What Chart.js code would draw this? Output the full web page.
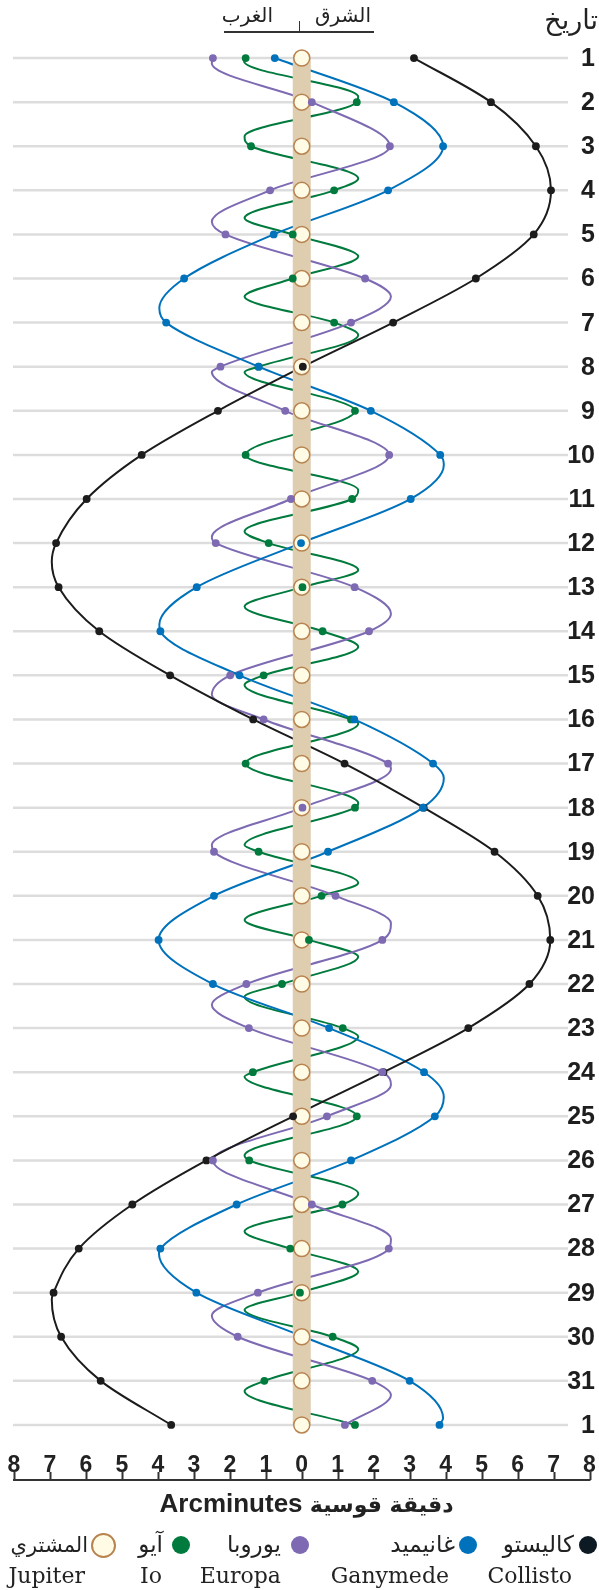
<!DOCTYPE html>
<html>
<head>
<meta charset="utf-8">
<script src="https://cdn.jsdelivr.net/npm/chart.js@4.4.1/dist/chart.umd.min.js"></script>
<style>
  html, body { margin: 0; padding: 0; background: #ffffff; }
  body { width: 599px; height: 1590px; position: relative; overflow: hidden; }
  #c { position: absolute; left: 0; top: 0; }
  .t { position: absolute; white-space: nowrap; color: #222; }
  .ar { font-family: "DejaVu Sans", sans-serif; direction: rtl; }
  .en { font-family: "DejaVu Serif", serif; font-size: 22px; line-height: 26px; }
  .dot { position: absolute; border-radius: 50%; }
</style>
</head>
<body>
<canvas id="c" width="599" height="1590"></canvas>

<!-- header -->
<div class="t ar" style="right:1px; top:2px; font-size:27px; line-height:36px;">تاريخ</div>
<div class="t ar" style="right:326px; top:2px; font-size:20px; line-height:26px;">الغرب</div>
<div class="t ar" style="right:228px; top:2px; font-size:20px; line-height:26px;">الشرق</div>
<div style="position:absolute; left:224px; top:31px; width:150px; height:1.5px; background:#333;"></div>
<div style="position:absolute; left:298.5px; top:21px; width:1.5px; height:11px; background:#333;"></div>

<!-- axis title -->
<div class="t" style="left:7px; width:599px; top:1487px; text-align:center; font-family:'Liberation Sans', Arial, sans-serif; font-weight:bold; font-size:26px; line-height:32px;">Arcminutes <span style="font-family:'DejaVu Sans'; font-size:22px;">دقيقة قوسية</span></div>

<!-- legend row 1 -->
<div class="dot" style="left:579px; top:1536px; width:18px; height:18px; background:#0d1a23;"></div>
<div class="t ar" style="right:25px; top:1530px; font-size:23px; line-height:28px;">كاليستو</div>
<div class="dot" style="left:459px; top:1536px; width:18px; height:18px; background:#0072bc;"></div>
<div class="t ar" style="right:144px; top:1530px; font-size:23px; line-height:28px;">غانيميد</div>
<div class="dot" style="left:291px; top:1536px; width:18px; height:18px; background:#7d6ab2;"></div>
<div class="t ar" style="right:318px; top:1530px; font-size:23px; line-height:28px;">يوروبا</div>
<div class="dot" style="left:172px; top:1536px; width:18px; height:18px; background:#007a3d;"></div>
<div class="t ar" style="right:436px; top:1530px; font-size:23px; line-height:28px;">آيو</div>
<div class="dot" style="left:91px; top:1533px; width:21px; height:21px; background:#fffbe4; border:2px solid #b8834f;"></div>
<div class="t ar" style="right:511px; top:1531px; font-size:21px; line-height:28px;">المشتري</div>

<!-- legend row 2 -->
<div class="t en" style="right:27px; top:1563px;">Collisto</div>
<div class="t en" style="right:150px; top:1563px;">Ganymede</div>
<div class="t en" style="right:318px; top:1563px;">Europa</div>
<div class="t en" style="right:437px; top:1563px;">Io</div>
<div class="t en" style="right:514px; top:1563px;">Jupiter</div>

<script>
// ---- DATA (arcminutes from Jupiter; east = positive/right) ----
const dayLabels = ['1','2','3','4','5','6','7','8','9','10','11','12','13','14','15','16',
                   '17','18','19','20','21','22','23','24','25','26','27','28','29','30','31','1'];
const xTickValues = [-8,-7,-6,-5,-4,-3,-2,-1,0,1,2,3,4,5,6,7,8];

const jupiter = [0,0,0,0,0,0,0,0,0,0,0,0,0,0,0,0,0,0,0,0,0,0,0,0,0,0,0,0,0,0,0,0];

const callisto = [3.12, 5.26, 6.51, 6.93, 6.45, 4.84, 2.54, 0.03, -2.33, -4.45, -5.98, -6.83,
                  -6.76, -5.63, -3.66, -1.35, 1.19, 3.39, 5.36, 6.56, 6.91, 6.33, 4.63, 2.27,
                  -0.24, -2.65, -4.71, -6.2, -6.9, -6.69, -5.59, -3.63];
const callistoTurns = [[12.42, -6.95], [29.15, -6.95]];

const ganymede = [-0.75, 2.56, 3.93, 2.4, -0.78, -3.27, -3.77, -1.2, 1.92, 3.85, 3.03, -0.02,
                  -2.92, -3.93, -1.73, 1.46, 3.65, 3.37, 0.73, -2.44, -3.98, -2.47, 0.76, 3.4,
                  3.7, 1.37, -1.81, -3.93, -2.93, 0.05, 3.0, 3.83];
const ganymedeTurns = [[6.67, -3.96], [10.23, 3.95], [13.85, -3.96], [17.33, 3.95],
                       [24.56, 3.95], [28.12, -3.97], [31.85, 3.93]];

const europa = [-2.47, 0.28, 2.45, -0.88, -2.12, 1.76, 1.37, -2.26, -0.46, 2.43, -0.3, -2.39,
                1.47, 1.87, -1.99, -1.06, 2.4, 0.02, -2.44, 0.94, 2.24, -1.54, -1.47, 2.24,
                0.7, -2.47, 0.28, 2.42, -1.22, -1.78, 1.96, 1.2];
const europaTurns = [[1.12, -2.5], [4.71, -2.5], [6.41, 2.48], [8.12, -2.5], [11.86, -2.5],
                     [13.6, 2.48], [15.44, -2.5], [17.12, 2.48], [18.85, -2.5], [20.62, 2.48],
                     [22.47, -2.5], [24.29, 2.48], [27.78, 2.48], [29.52, -2.5], [31.32, 2.48]];

const io = [-1.56, 1.53, -1.41, 0.9, -0.25, -0.25, 0.9, -1.2, 1.48, -1.56, 1.4, -0.92,
            0.02, 0.58, -1.06, 1.37, -1.56, 1.48, -1.2, 0.55, 0.2, -0.55, 1.14, -1.36,
            1.53, -1.46, 1.13, -0.32, -0.05, 0.86, -1.04, 1.48];
const ioTurns = [[1.08, -1.6], [1.88, 1.57], [2.78, -1.59], [3.73, 1.57], [4.63, -1.59],
                 [5.5, 1.57], [6.41, -1.59], [7.28, 1.57], [8.12, -1.59], [10.8, 1.57],
                 [11.74, -1.59], [12.61, 1.57], [13.44, -1.59], [14.35, 1.57], [15.22, -1.59],
                 [16.09, 1.57], [17.9, 1.57], [18.85, -1.59], [19.71, 1.57], [20.55, -1.59],
                 [21.38, 1.57], [22.29, -1.59], [23.19, 1.57], [24.1, -1.59], [25.89, -1.59],
                 [26.75, 1.57], [27.61, -1.59], [28.52, 1.57], [29.39, -1.59], [30.28, 1.57],
                 [31.23, -1.59]];

// ---- helpers ----
const dots = arr => arr.map((v, i) => ({x: v, y: i + 1}));
const path = (arr, turns) => dots(arr).concat(turns.map(t => ({x: t[1], y: t[0]})))
                                      .sort((a, b) => a.y - b.y);

const COL = {callisto: '#1c1c1c', ganymede: '#0072bc', europa: '#7d6ab2', io: '#007a3d'};

const lineDs = (data, color, order) => ({
  data, borderColor: color, borderWidth: 2, pointRadius: 0, pointHoverRadius: 0,
  cubicInterpolationMode: 'monotone', fill: false, order
});
const dotDs = (data, color, order, radius) => ({
  data, showLine: false, pointRadius: radius || 3.9, pointHoverRadius: 0,
  pointBackgroundColor: color, pointBorderWidth: 0, order
});

const gridPlugin = {
  id: 'dayGrid',
  beforeDatasetsDraw(chart) {
    const {ctx, scales: {y}} = chart;
    ctx.save();
    ctx.strokeStyle = '#dddddd';
    ctx.lineWidth = 2.5;
    dayLabels.forEach((l, i) => {
      const py = y.getPixelForValue(i + 1);
      ctx.beginPath(); ctx.moveTo(13, py); ctx.lineTo(568, py); ctx.stroke();
    });
    ctx.restore();
  },
  afterDraw(chart) {
    const {ctx, scales: {x, y}} = chart;
    ctx.save();
    // day labels
    ctx.fillStyle = '#1e1e1e';
    ctx.font = 'bold 25px "Liberation Sans", Arial, sans-serif';
    ctx.textAlign = 'right';
    ctx.textBaseline = 'middle';
    dayLabels.forEach((l, i) => {
      ctx.fillText(l, 595, y.getPixelForValue(i + 1) + 1);
    });
    // x axis ruler
    ctx.strokeStyle = '#333';
    ctx.lineWidth = 2;
    const x0 = x.getPixelForValue(xTickValues[0]);
    const x1 = x.getPixelForValue(xTickValues[xTickValues.length - 1]);
    ctx.beginPath(); ctx.moveTo(x0 - 1, 1480); ctx.lineTo(x1 + 1, 1480); ctx.stroke();
    xTickValues.forEach(v => {
      const px = Math.round(x.getPixelForValue(v)) + 0.5;
      ctx.beginPath(); ctx.moveTo(px, 1472); ctx.lineTo(px, 1480); ctx.stroke();
    });
    ctx.restore();
  }
};

new Chart(document.getElementById('c'), {
  type: 'line',
  data: {
    datasets: [
      lineDs(path(io, ioTurns), COL.io, 103),
      lineDs(path(europa, europaTurns), COL.europa, 102),
      lineDs(path(ganymede, ganymedeTurns), COL.ganymede, 101),
      lineDs(path(callisto, callistoTurns), COL.callisto, 100),
      { data: dots(jupiter), borderColor: '#dfcdb0', borderWidth: 18, borderCapStyle: 'butt',
        pointRadius: 0, tension: 0, order: 50 },
      { data: dots(jupiter), showLine: false, pointRadius: 8, pointHoverRadius: 0,
        pointBackgroundColor: '#fffbe4', pointBorderColor: '#b8834f', pointBorderWidth: 1.5, order: 40 },
      dotDs(dots(callisto), COL.callisto, 30),
      dotDs(dots(europa), COL.europa, 29),
      dotDs(dots(io), COL.io, 28),
      dotDs(dots(ganymede), COL.ganymede, 27, c => (c.dataIndex === 29 ? 0 : 3.9))
    ]
  },
  options: {
    indexAxis: 'y',
    responsive: false,
    animation: false,
    events: [],
    layout: { padding: { left: 14, right: 8, top: 36, bottom: 110 } },
    plugins: { legend: { display: false }, tooltip: { enabled: false } },
    scales: {
      x: {
        type: 'linear', min: -8, max: 8, position: 'bottom',
        grid: { display: false }, border: { display: false },
        afterBuildTicks: s => { s.ticks = xTickValues.map(v => ({value: v})); },
        afterFit: s => { s.height = 33; },
        ticks: {
          autoSkip: false, maxRotation: 0, padding: -3, color: '#222',
          font: { family: '"Liberation Sans", Arial, sans-serif', size: 23, weight: 'bold' },
          callback: v => String(Math.abs(v))
        }
      },
      y: { type: 'linear', reverse: true, min: 0.5, max: 32.5, display: false }
    }
  },
  plugins: [gridPlugin]
});
</script>
</body>
</html>
